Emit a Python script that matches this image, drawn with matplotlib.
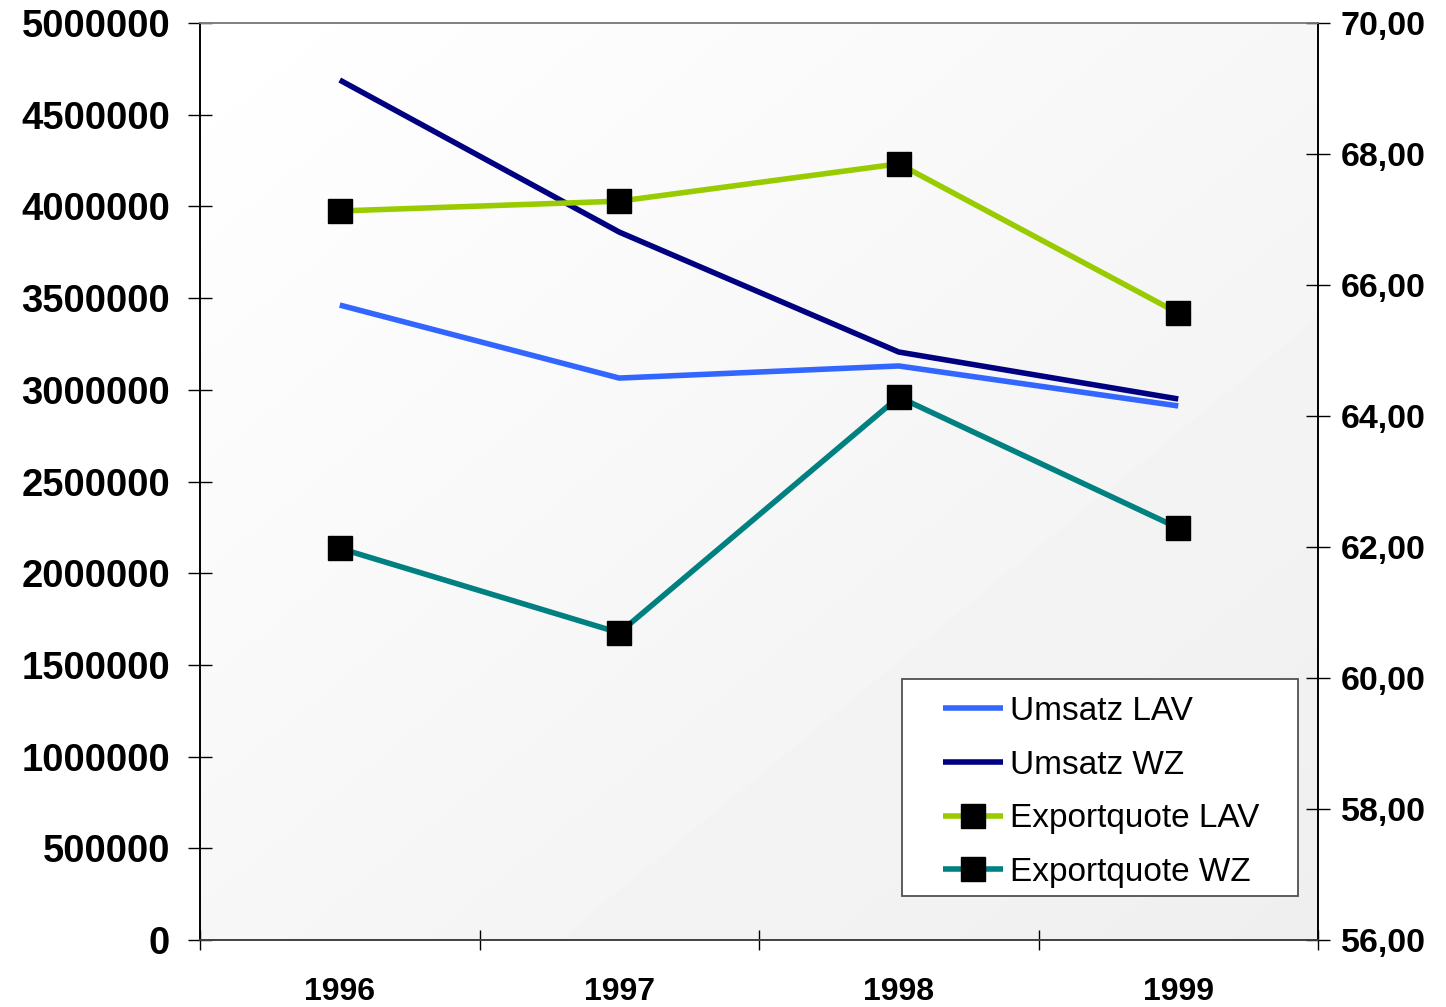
import numpy as np
import matplotlib
matplotlib.use("Agg")
import matplotlib.pyplot as plt
from matplotlib.ticker import FuncFormatter
from matplotlib.patches import Rectangle

years = ["1996", "1997", "1998", "1999"]
umsatz_lav = [3462000, 3064000, 3130000, 2912000]
umsatz_wz = [4689000, 3860000, 3206000, 2950000]
export_lav = [67.13, 67.28, 67.85, 65.57]
export_wz = [61.98, 60.69, 64.29, 62.29]

left_ticks = [0, 500000, 1000000, 1500000, 2000000, 2500000, 3000000, 3500000, 4000000, 4500000, 5000000]
right_ticks = [56, 58, 60, 62, 64, 66, 68, 70]

plt.rcParams['font.family'] = ['Liberation Sans', 'DejaVu Sans']

W, H = 1446, 1007
fig = plt.figure(figsize=(W / 100, H / 100), dpi=100)
ax = fig.add_axes([200/W, 1 - 940/H, 1118/W, 917/H])
ax2 = ax.twinx()

# gradient background: white at top-left, light grey at bottom-right
g = np.linspace(0, 1, 200)
X, Y = np.meshgrid(g, g)
grad = (X + Y) / 2.0
img = 1.0 - 0.065 * grad
ax.imshow(img, cmap='gray', vmin=0, vmax=1, extent=[0, 1, 0, 1], transform=ax.transAxes,
          aspect='auto', origin='upper', zorder=0, interpolation='bilinear')

x = np.arange(len(years))
common = dict(lw=4.0, solid_joinstyle='miter', solid_capstyle='butt', zorder=3)
l1, = ax.plot(x, umsatz_lav, color='#3366FF', label='Umsatz LAV', **common)
l2, = ax.plot(x, umsatz_wz, color='#000080', label='Umsatz WZ', **common)
l3, = ax2.plot(x, export_lav, color='#99CC00', marker='s', ms=17, mfc='black', mec='black',
               label='Exportquote LAV', **common)
l4, = ax2.plot(x, export_wz, color='#008080', marker='s', ms=17, mfc='black', mec='black',
               label='Exportquote WZ', **common)

ax.set_xlim(-0.5, 3.5)
ax.set_ylim(0, 5000000)
ax2.set_ylim(56, 70)
ax.set_yticks(left_ticks)
ax.set_yticklabels([str(v) for v in left_ticks])
ax2.set_yticks(right_ticks)
ax2.yaxis.set_major_formatter(FuncFormatter(lambda v, p: f"{v:.2f}".replace('.', ',')))

ax.set_xticks([-0.5, 0.5, 1.5, 2.5, 3.5])
ax.set_xticklabels([])
ax.set_xticks(x, minor=True)
ax.set_xticklabels(years, minor=True)
ax.tick_params(axis='x', which='minor', length=0, pad=27, labelsize=23)
ax.tick_params(axis='x', which='major', direction='inout', length=15, width=1, color='black')
for lab in ax.get_xticklabels(minor=True):
    lab.set_fontweight('bold')

ax.tick_params(axis='y', direction='inout', length=17, width=1, pad=13, labelsize=27.5)
ax2.tick_params(axis='y', direction='inout', length=17, width=1, pad=8, labelsize=24.5)
for lab in ax.get_yticklabels():
    lab.set_fontweight('bold')
for lab in ax2.get_yticklabels():
    lab.set_fontweight('bold')

for a in (ax, ax2):
    a.spines['top'].set_color('#808080')
    a.spines['bottom'].set_color('#404040')
    a.spines['left'].set_color('black')
    a.spines['right'].set_color('black')
    for s in a.spines.values():
        s.set_linewidth(1.2)

# legend frame
frame = Rectangle((902/W, 1 - 896/H), 396/W, 217/H, transform=fig.transFigure,
                  facecolor='white', edgecolor='#505050', lw=1.3, zorder=5)
fig.add_artist(frame)
leg = fig.legend(handles=[l1, l2, l3, l4], loc='upper left',
                 bbox_to_anchor=(943/W, 1 - 696/H), bbox_transform=fig.transFigure,
                 fontsize=24, frameon=False, handlelength=1.8, handletextpad=0.2,
                 labelspacing=0.68, borderpad=0, borderaxespad=0)
leg.set_zorder(6)

fig.savefig('out.png', dpi=100)
